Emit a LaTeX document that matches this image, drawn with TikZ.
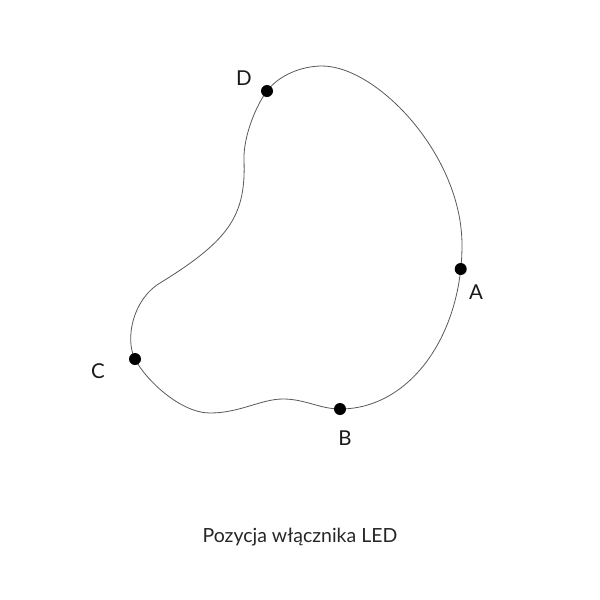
\documentclass[tikz,border=0pt]{standalone}
\usepackage{fontspec}
\setmainfont{Lato}
\begin{document}
\begin{tikzpicture}[x=1pt,y=-1pt,
  dot/.style={circle,fill=black,inner sep=0pt,minimum size=12pt},
  lbl/.style={font=\fontsize{20.5}{24}\selectfont,text=black!90,inner sep=0pt},
  outline/.style={draw=black!65,line width=0.8pt}]
\useasboundingbox (0,0) rectangle (600,600);
\coordinate (pD) at (267,91);
\coordinate (pTop) at (322,66);
\coordinate (pR) at (462,245);
\coordinate (pB) at (340,409);
\coordinate (pBump) at (283,399);
\coordinate (pDip) at (210,413);
\coordinate (pC) at (135,359);
\coordinate (pL1) at (160,283);
\coordinate (pL3) at (244,160);
\draw[outline] (pD) .. controls (279,75) and (302,66) .. (pTop)
  .. controls (377,66) and (462,155) .. (pR)
  .. controls (462,335) and (410,409) .. (pB)
  .. controls (320,409) and (305,399) .. (pBump)
  .. controls (261,399) and (240,413) .. (pDip)
  .. controls (180,413) and (145,379) .. (pC)
  .. controls (125,340) and (132,300) .. (pL1)
  .. controls (230,240) and (246,215) .. (pL3)
  .. controls (243.2,138) and (255,107) .. (pD) -- cycle;
\node[dot] (D) at (pD) {};
\node[dot] (A) at (460.7,269) {};
\node[dot] (B) at (pB) {};
\node[dot] (C) at (pC) {};
\node[lbl] (lD) at (244,78) {D};
\node[lbl] (lA) at (476,292) {A};
\node[lbl] (lB) at (345,438) {B};
\node[lbl] (lC) at (98,371) {C};
\node[font=\fontsize{19.5}{24}\selectfont,text=black!85,inner sep=0pt] (title) at (300,537) {Pozycja włącznika LED};
\end{tikzpicture}
\end{document}
